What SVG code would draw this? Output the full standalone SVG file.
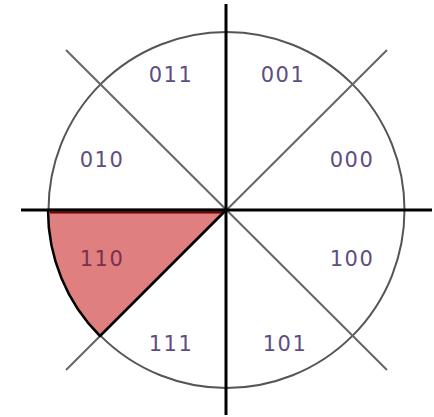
<svg xmlns="http://www.w3.org/2000/svg" width="434" height="417" viewBox="0 0 434 417">
<style>
.lbl{font-family:"DejaVu Sans","Verdana",sans-serif;font-size:21px;letter-spacing:1.5px;fill:#5e4e82;text-anchor:middle}
.diag{stroke:#666;stroke-width:2;fill:none}
.axis{stroke:#000;stroke-width:3;fill:none}
</style>
<rect width="434" height="417" fill="#fff"/>
<g id="circle">
<circle cx="226.5" cy="210" r="178" fill="none" stroke="#555" stroke-width="2"/>
</g>
<g id="connectors">
<line class="diag" x1="66" y1="50" x2="387" y2="370"/>
<line class="diag" x1="387" y1="50" x2="66" y2="370"/>
</g>
<g id="wedge-110">
<path d="M226,210 L48,210 A178,178 0 0 0 100,336 Z" fill="#df7f7f" stroke="#000" stroke-width="2.5" stroke-linejoin="round"/>
<line x1="50" y1="212.5" x2="222" y2="212.5" stroke="#700000" stroke-width="2"/>
</g>
<g id="axes">
<line class="axis" x1="226" y1="4" x2="226" y2="415"/>
<line class="axis" x1="21" y1="210" x2="432" y2="210"/>
</g>
<g id="labels">
<text class="lbl" x="171" y="82">011</text>
<text class="lbl" x="283" y="82">001</text>
<text class="lbl" x="102" y="167">010</text>
<text class="lbl" x="352" y="167">000</text>
<text class="lbl" x="102" y="266" style="fill:#7a3050">110</text>
<text class="lbl" x="352" y="266">100</text>
<text class="lbl" x="171" y="351">111</text>
<text class="lbl" x="285" y="351">101</text>
</g>
</svg>
